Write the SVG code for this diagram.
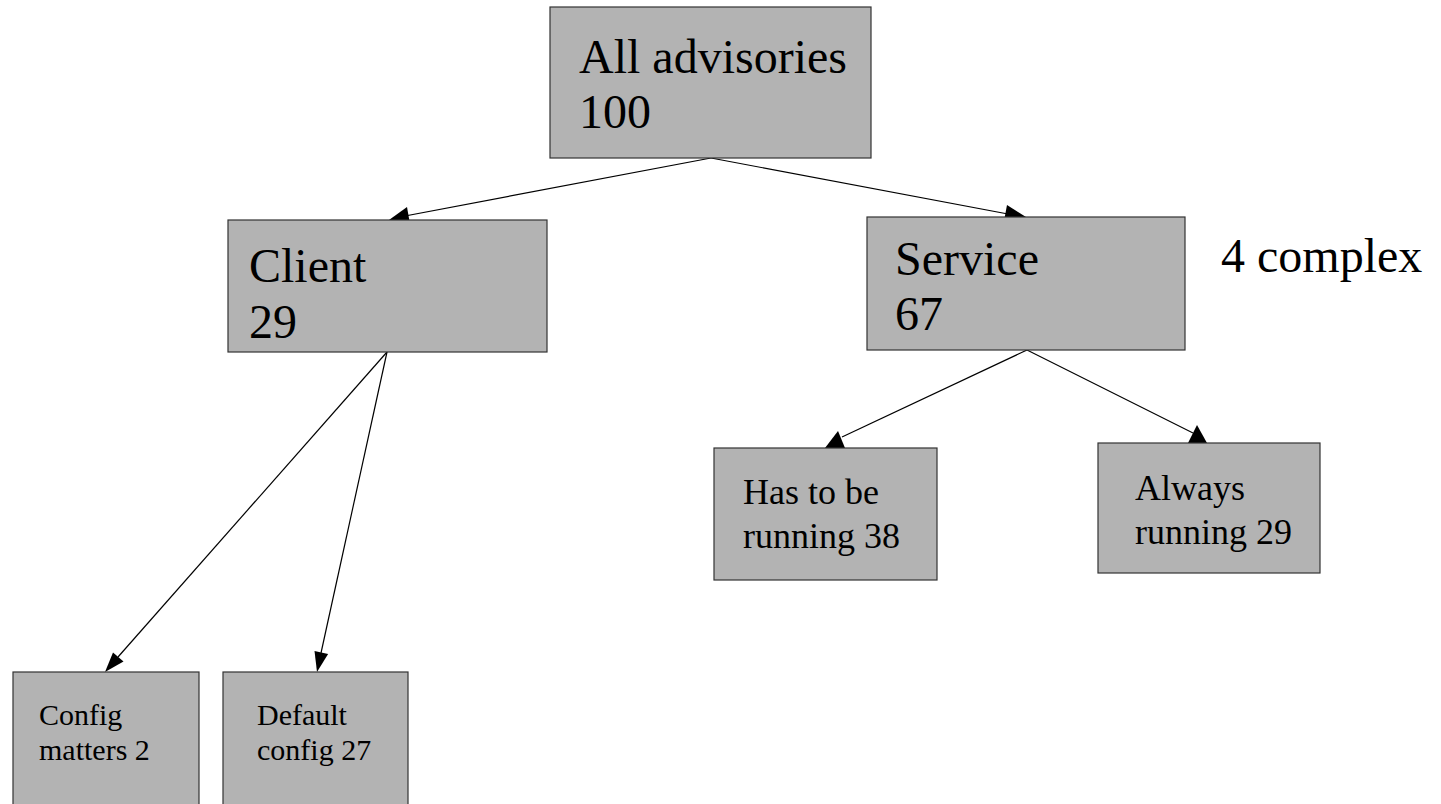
<svg xmlns="http://www.w3.org/2000/svg" width="1441" height="804" viewBox="0 0 1441 804">
<style>
.box{fill:#b3b3b3;stroke:#333;stroke-width:1.2}
.t{font-family:"Liberation Serif","Times New Roman",serif;fill:#000}
.l{font-size:48px}
.m{font-size:36px}
.s{font-size:30px}
.ln{stroke:#000;stroke-width:1.2;fill:none}
.ah{fill:#000;stroke:none}
</style>
<rect width="1441" height="804" fill="#fff"/>
<g id="connectors">
<line class="ln" x1="711" y1="158" x2="405" y2="216"/>
<polygon class="ah" points="389,220 407,207 410,224"/>
<line class="ln" x1="711" y1="158" x2="1008" y2="214"/>
<polygon class="ah" points="1026,217 1007,205 1004,221"/>
<line class="ln" x1="387" y1="352" x2="118" y2="657"/>
<polygon class="ah" points="105,672 123.5,661.6 113,652.4"/>
<line class="ln" x1="387" y1="352" x2="321" y2="653"/>
<polygon class="ah" points="317,672 328.1,654 314.5,651"/>
<line class="ln" x1="1027" y1="350" x2="842" y2="437"/>
<polygon class="ah" points="825,448 845,448 838,431"/>
<line class="ln" x1="1027" y1="350" x2="1193" y2="433"/>
<polygon class="ah" points="1188,443 1207,443 1197,425"/>
</g>
<g id="node-all">
<rect class="box" x="550" y="7" width="321" height="151"/>
<text class="t l" x="579" y="73">All advisories</text>
<text class="t l" x="579" y="128">100</text>
</g>
<g id="node-client">
<rect class="box" x="228" y="220" width="319" height="132"/>
<text class="t l" x="249" y="282">Client</text>
<text class="t l" x="249" y="338">29</text>
</g>
<g id="node-service">
<rect class="box" x="867" y="217" width="318" height="133"/>
<text class="t l" x="895" y="275">Service</text>
<text class="t l" x="895" y="330">67</text>
</g>
<g id="note-complex">
<text class="t l" x="1221" y="272">4 complex</text>
</g>
<g id="node-has-to-be">
<rect class="box" x="714" y="448" width="223" height="132"/>
<text class="t m" x="743" y="504">Has to be</text>
<text class="t m" x="743" y="548">running 38</text>
</g>
<g id="node-always">
<rect class="box" x="1098" y="443" width="222" height="130"/>
<text class="t m" x="1135" y="500">Always</text>
<text class="t m" x="1135" y="544">running 29</text>
</g>
<g id="node-config-matters">
<rect class="box" x="13" y="672" width="186" height="140"/>
<text class="t s" x="39" y="725">Config</text>
<text class="t s" x="39" y="760">matters 2</text>
</g>
<g id="node-default-config">
<rect class="box" x="223" y="672" width="185" height="140"/>
<text class="t s" x="257" y="725">Default</text>
<text class="t s" x="257" y="760">config 27</text>
</g>
</svg>
